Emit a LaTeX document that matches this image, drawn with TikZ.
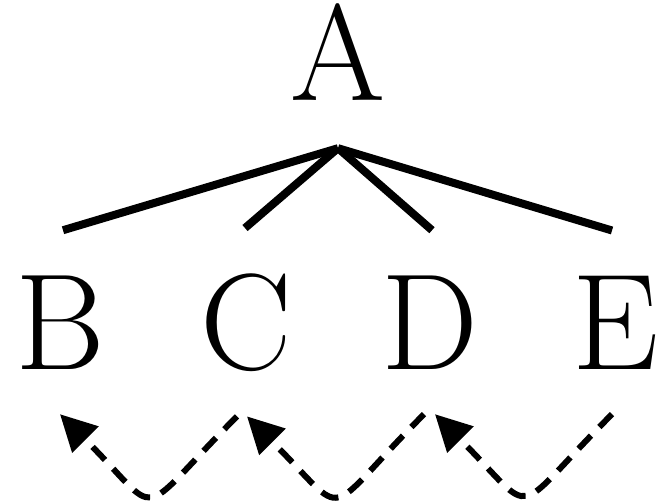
\documentclass[tikz,border=0pt]{standalone}
\usetikzlibrary{arrows.meta}
\begin{document}
\begin{tikzpicture}[x=1pt,y=1pt,
  lbl/.style={inner sep=0pt,anchor=base,font=\fontsize{137}{137}\selectfont},
  branch/.style={line width=8pt},
  hop/.style={line width=6pt,dash pattern=on 18pt off 12pt,
    -{Triangle[length=36pt,width=36pt]},out=-135,in=-45,looseness=2.15}]
\useasboundingbox (0,0) rectangle (656,503);
\node[lbl] (A) at (338,402) {A};
\node[lbl] (B) at (60,133) {B};
\node[lbl] (C) at (246,133) {C};
\node[lbl] (D) at (430,133) {D};
\node[lbl] (E) at (616,133) {E};
\coordinate (apex) at ([yshift=-47pt]A.south);
\draw[branch] (apex) -- ([xshift=3pt,yshift=46pt]B.north);
\draw[branch] (apex) -- ([xshift=-1pt,yshift=46pt]C.north);
\draw[branch] (apex) -- ([xshift=2pt,yshift=46pt]D.north);
\draw[branch] (apex) -- ([xshift=-4pt,yshift=46pt]E.north);
\draw[hop] ([xshift=-9pt,yshift=-44pt]C.south) to ([yshift=-44pt]B.south);
\draw[hop] ([xshift=-6pt,yshift=-44pt]D.south) to ([xshift=1pt,yshift=-44pt]C.south);
\draw[hop] ([xshift=-4pt,yshift=-44pt]E.south) to ([xshift=5pt,yshift=-44pt]D.south);
\end{tikzpicture}
\end{document}
